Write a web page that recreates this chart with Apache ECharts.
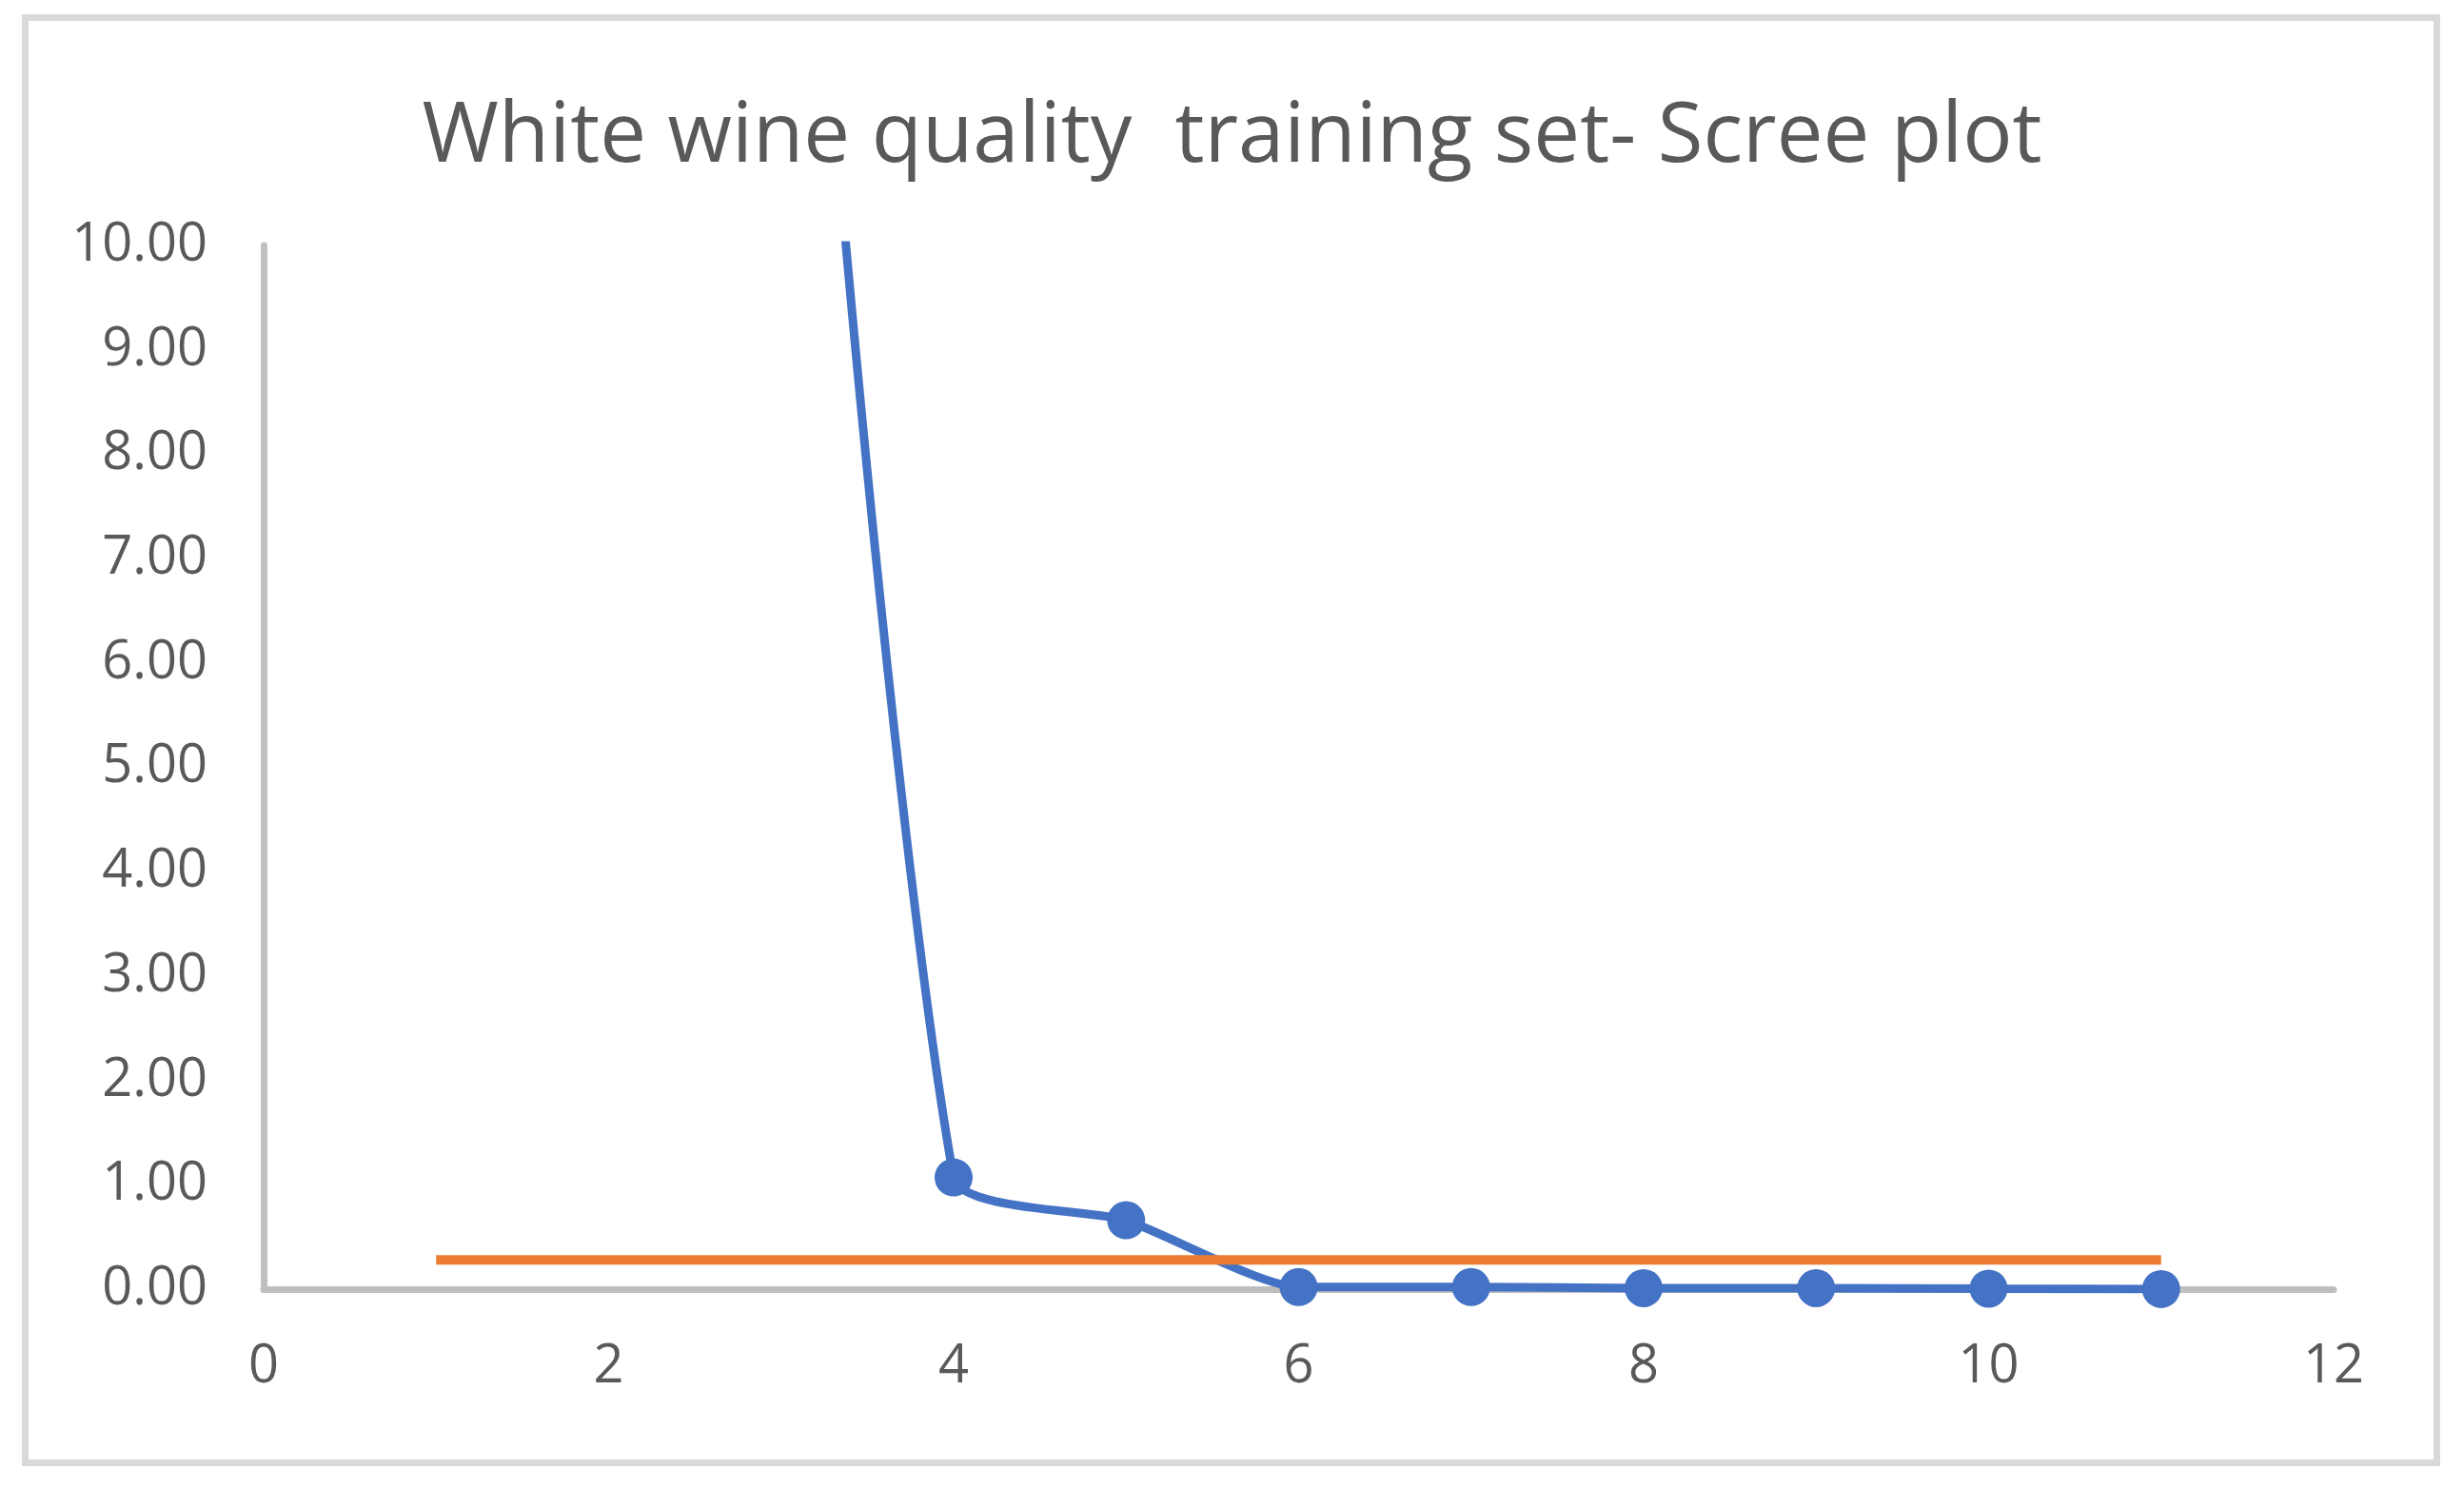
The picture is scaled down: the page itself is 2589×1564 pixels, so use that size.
<!DOCTYPE html>
<html>
<head>
<meta charset="utf-8">
<title>White wine quality training set - Scree plot</title>
<script src="https://cdn.jsdelivr.net/npm/echarts@6/dist/echarts.min.js"></script>
<style>
  html, body { margin: 0; padding: 0; background: #fff; }
  #chart { width: 2589px; height: 1564px; }
</style>
</head>
<body>
<div id="chart"></div>
<script>
// principal component number (x) and its eigenvalue (y)
const components = [1, 2, 3, 4, 5, 6, 7, 8, 9, 10, 11];
// first three are far above the 10.00 ceiling, only their slope shows
const eigenvalues = [1931, 170, 19, 1.07, 0.66, 0.02, 0.02, 0.01, 0.01, 0.005, 0.001];
// flat cut-off line drawn across all components
const cutoff = [0.28, 0.28, 0.28, 0.28, 0.28, 0.28, 0.28, 0.28, 0.28, 0.28, 0.28];

const xTicks = { min: 0, max: 12, step: 2 };
const yTicks = { min: 0, max: 10, step: 1 };

const textColor = "#595959";
const axisColor = "#bfbfbf";
const font = "'Open Sans', 'Noto Sans', sans-serif";

function pairs(xs, ys) {
  return xs.map((x, i) => [x, ys[i]]);
}

const chart = echarts.init(document.getElementById("chart"));

chart.setOption({
  animation: false,
  backgroundColor: "#fff",
  graphic: [
    {
      type: "rect",
      silent: true,
      shape: { x: 26.5, y: 18.5, width: 2534, height: 1519 },
      style: { fill: "none", stroke: "#d9d9d9", lineWidth: 7 }
    }
  ],
  title: {
    text: "White wine quality  training set- Scree plot",
    left: "center",
    top: 97,
    textStyle: {
      color: textColor,
      fontFamily: font,
      fontWeight: "normal",
      fontSize: 87
    }
  },
  grid: { left: 277, right: 137, top: 258, bottom: 209 },
  xAxis: {
    type: "value",
    min: xTicks.min,
    max: xTicks.max,
    interval: xTicks.step,
    splitLine: { show: false },
    axisTick: { show: false },
    axisLine: { onZero: false, lineStyle: { color: axisColor, width: 7 } },
    axisLabel: {
      color: textColor,
      fontFamily: font,
      fontSize: 56,
      margin: 54
    }
  },
  yAxis: {
    type: "value",
    min: yTicks.min,
    max: yTicks.max,
    interval: yTicks.step,
    splitLine: { show: false },
    axisTick: { show: false },
    axisLine: { show: true, lineStyle: { color: axisColor, width: 7 } },
    axisLabel: {
      color: textColor,
      fontFamily: font,
      fontSize: 56,
      margin: 59,
      formatter: v => v.toFixed(2)
    }
  },
  series: [
    {
      name: "Eigenvalue",
      type: "line",
      data: pairs(components, eigenvalues),
      smooth: 0.2,
      clip: true,
      symbol: "circle",
      symbolSize: 40,
      itemStyle: { color: "#4472c4" },
      lineStyle: { color: "#4472c4", width: 9 }
    },
    {
      name: "Cut-off",
      type: "line",
      data: pairs(components, cutoff),
      showSymbol: false,
      symbol: "none",
      lineStyle: { color: "#ed7d31", width: 10 }
    }
  ]
});
</script>
</body>
</html>
